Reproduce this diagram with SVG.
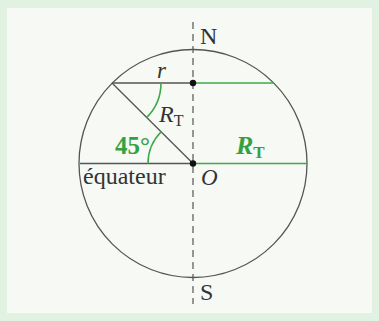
<svg xmlns="http://www.w3.org/2000/svg" width="379" height="321" viewBox="0 0 379 321">
<style>
.k{stroke:#555;stroke-width:1.3;fill:none}
.g{stroke:#3fa84a;stroke-width:1.6;fill:none}
.t{font-family:"Liberation Serif",serif;fill:#333}
.gt{font-family:"Liberation Serif",serif;fill:#35a040;font-weight:bold}
</style>
<rect x="0" y="0" width="379" height="321" fill="#e2f2e2"/>
<rect x="7" y="8" width="365" height="305" fill="#f6f9f4"/>
<g id="circle"><circle cx="193" cy="163.5" r="114" class="k"/></g>
<g id="connectors">
<line x1="193" y1="22" x2="193" y2="304" stroke="#555" stroke-width="1.2" stroke-dasharray="7,5"/>
<line x1="80" y1="163.5" x2="193" y2="163.5" class="k"/>
<line x1="112" y1="83" x2="193" y2="83" class="k"/>
<line x1="112" y1="83" x2="193" y2="163.5" class="k"/>
<line x1="196" y1="83" x2="274" y2="83" class="g"/>
<line x1="196" y1="163.5" x2="307" y2="163.5" class="g"/>
<path d="M161 83 A49 49 0 0 1 146.6 117.6" class="g"/>
<path d="M148 163.5 A45 45 0 0 1 161.2 131.7" class="g"/>
</g>
<g id="O-point"><circle cx="193" cy="163.5" r="3.2" fill="#111"/></g>
<g id="top-point"><circle cx="193" cy="83" r="3.2" fill="#111"/></g>
<g id="labels">
<text class="t" x="200" y="44" font-size="24">N</text>
<text class="t" x="200" y="300" font-size="24">S</text>
<text class="t" x="157" y="78" font-size="23" font-style="italic">r</text>
<text class="t" x="159" y="122" font-size="24" font-style="italic">R<tspan font-size="16" font-style="normal" dy="4">T</tspan></text>
<text class="gt" x="115" y="154" font-size="25">45°</text>
<text class="gt" x="236" y="154" font-size="26" font-style="italic">R<tspan font-size="17" font-style="normal" dy="4">T</tspan></text>
<text class="t" x="83" y="184" font-size="24">équateur</text>
<text class="t" x="201" y="185" font-size="23" font-style="italic">O</text>
</g>
</svg>
